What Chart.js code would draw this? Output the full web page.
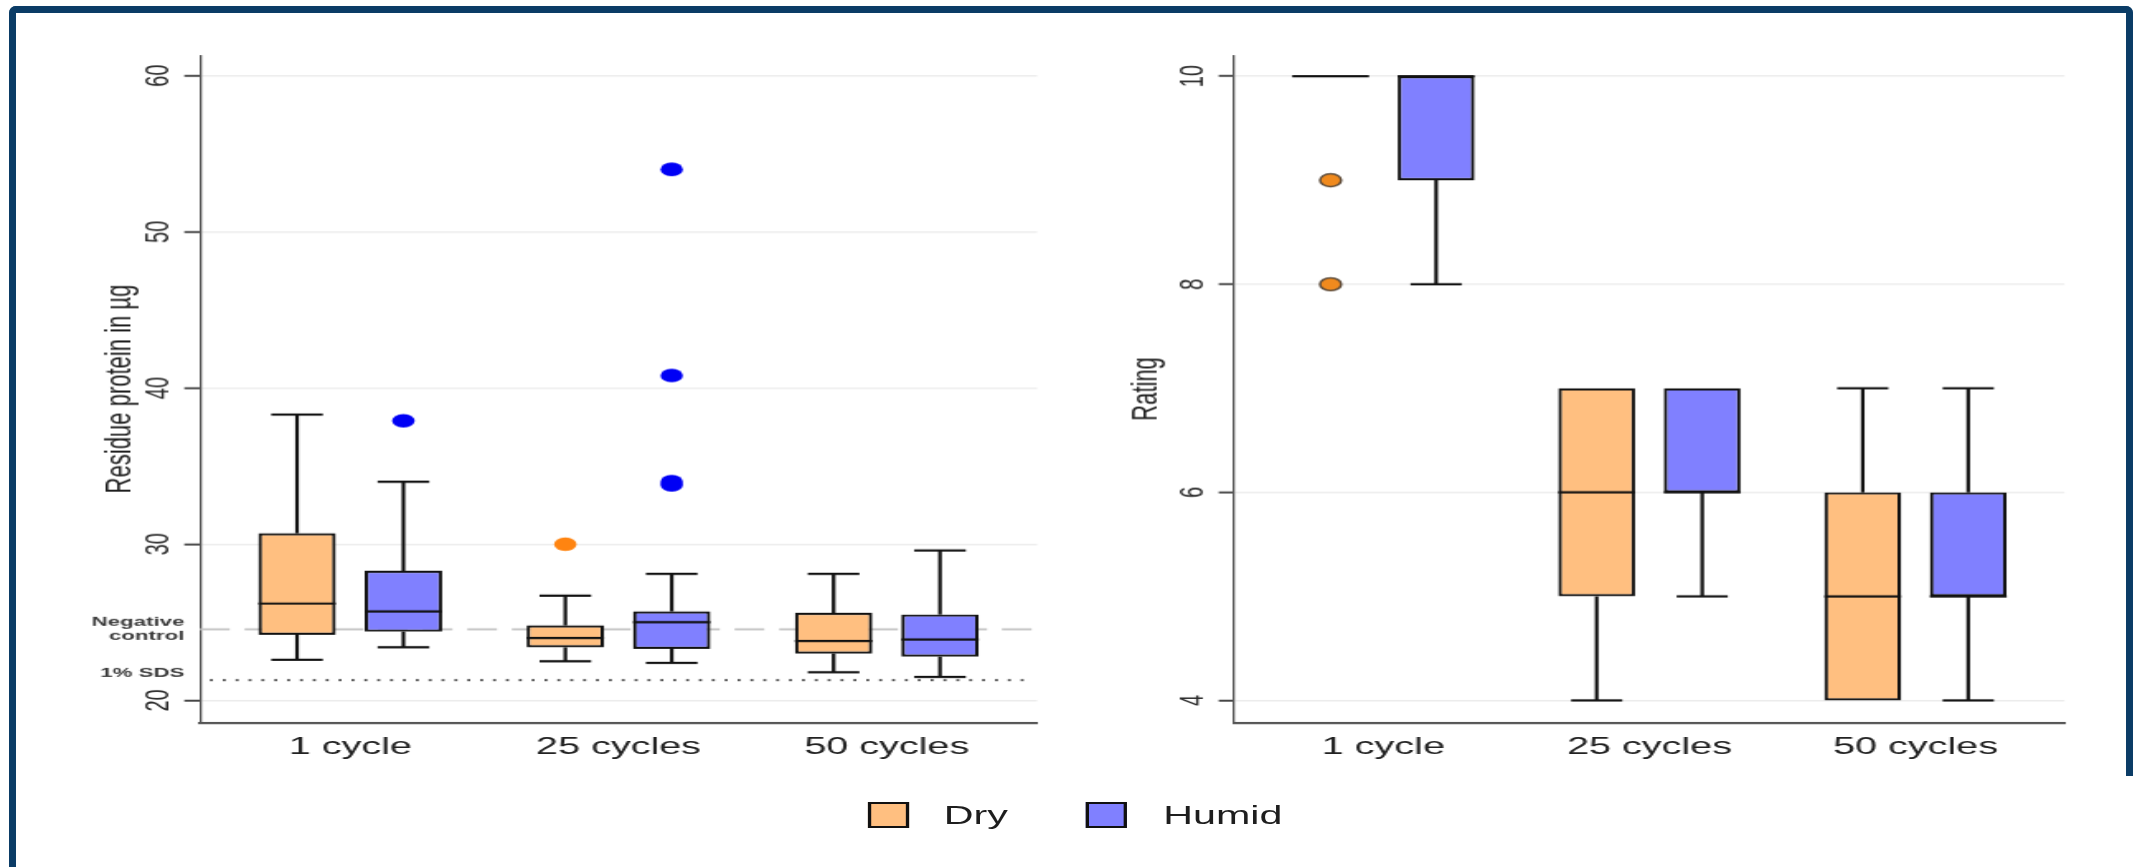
<!DOCTYPE html>
<html>
<head>
<meta charset="utf-8">
<title>Residue protein and rating by cycles</title>
<script src="https://cdn.jsdelivr.net/npm/chart.js"></script>
<style>
  html,body{margin:0;padding:0;background:#fff;}
  body{width:2138px;height:867px;position:relative;overflow:hidden;font-family:"Liberation Sans",Arial,sans-serif;}
  #frame{position:absolute;left:9px;top:6px;width:2124px;height:770px;border:7px solid #0b3c66;border-bottom:none;border-radius:7px 7px 0 0;box-sizing:border-box;}
  #frameL{position:absolute;left:9px;top:700px;width:7px;height:167px;background:#0b3c66;}
  /* the source figure is stretched sideways, so the charts are drawn narrow and scaled */
  #stage{position:absolute;left:0;top:0;width:1296px;height:867px;transform:scaleX(1.65);transform-origin:0 0;}
  #boxL{position:absolute;left:0;top:0;width:640px;height:781.6px;}
  #boxR{position:absolute;left:640px;top:0;width:656px;height:781.6px;}
  #legend{position:absolute;left:0;top:802px;width:1296px;height:26px;}
  .sw{position:absolute;top:0;width:21px;height:21.5px;border:2.25px solid #111;}
  .lb{position:absolute;top:0;font-size:25px;line-height:26px;color:#1e1e1e;white-space:nowrap;}
</style>
</head>
<body>
<div id="frame"></div>
<div id="frameL"></div>
<div id="stage">
  <div id="boxL"><canvas id="protein"></canvas></div>
  <div id="boxR"><canvas id="rating"></canvas></div>
  <div id="legend">
    <div class="sw" style="left:525.5px;background:#ffbf80"></div><div class="lb" style="left:572px">Dry</div>
    <div class="sw" style="left:657.5px;background:#8080ff"></div><div class="lb" style="left:705px">Humid</div>
  </div>
</div>
<script>
// categories and series
const categories = ['1 cycle', '25 cycles', '50 cycles'];
const seriesNames = ['Dry', 'Humid'];

// residue protein (µg): [min, q1, median, q3, max] per category
const proteinDry   = [[22.6, 24.2, 26.2, 30.7, 38.3], [22.5, 23.4, 24.0, 24.8, 26.7], [21.8, 23.0, 23.8, 25.6, 28.1]];
const proteinHumid = [[23.4, 24.4, 25.7, 28.3, 34.0], [22.4, 23.3, 25.0, 25.7, 28.1], [21.5, 22.8, 23.9, 25.5, 29.6]];
const proteinDryOut   = [[], [30.0], []];
const proteinHumidOut = [[37.9], [54.0, 40.8, 34.0, 33.8], []];
const proteinTicks = [20, 30, 40, 50, 60];
const negativeControl = 24.55;
const sds1pct = 21.3;

// rating: [min, q1, median, q3, max] per category
const ratingDry   = [[10, 10, 10, 10, 10], [4, 5, 6, 7, 7], [4, 4, 5, 6, 7]];
const ratingHumid = [[8, 9, 10, 10, 10], [5, 6, 6, 7, 7], [4, 5, 5, 6, 7]];
const ratingDryOut   = [[9, 8], [], []];
const ratingHumidOut = [[], [], []];
const ratingTicks = [4, 6, 8, 10];

const fills = ['#ffbf80', '#8080ff'];
const LW = 2.2;

// draws whiskers, medians, outliers and the reference lines off the bar elements and the y scale
const boxDecor = {
  id: 'boxDecor',
  beforeDatasetsDraw(chart, args, opts){
    const {ctx, chartArea:a, scales:{y}} = chart;
    (opts.refLines||[]).forEach(r=>{
      const py = y.getPixelForValue(r.value);
      ctx.save();
      ctx.strokeStyle = r.color; ctx.lineWidth = r.width; ctx.setLineDash(r.dash);
      ctx.beginPath(); ctx.moveTo(a.left + r.inset, py); ctx.lineTo(a.right - r.inset, py); ctx.stroke();
      ctx.setLineDash([]);
      ctx.fillStyle = '#3a3a3a'; ctx.font = 'bold 13.5px "Liberation Sans", Arial, sans-serif';
      ctx.textAlign = 'right'; ctx.textBaseline = 'middle';
      if(r.label.length === 2){ ctx.fillText(r.label[0], a.left - 9.5, py - 7); ctx.fillText(r.label[1], a.left - 9.5, py + 7); }
      else ctx.fillText(r.label[0], a.left - 9.5, py - 7);
      ctx.restore();
    });
  },
  afterDatasetsDraw(chart, args, opts){
    const {ctx, scales:{y}} = chart;
    const Y = v => y.getPixelForValue(v);
    const seg = (x1,y1,x2,y2)=>{ ctx.beginPath(); ctx.moveTo(x1,y1); ctx.lineTo(x2,y2); ctx.stroke(); };
    chart.data.datasets.forEach((ds, di)=>{
      const meta = chart.getDatasetMeta(di);
      if(!ds.stats) return;
      meta.data.forEach((bar, i)=>{
        const {x:cx, width:w} = bar.getProps(['x','width'], true);
        const [mn, q1, med, q3, mx] = ds.stats[i];
        ctx.save();
        ctx.strokeStyle = '#111'; ctx.lineWidth = LW;
        if(mx > q3){ seg(cx, Y(q3), cx, Y(mx)); seg(cx - w/3, Y(mx), cx + w/3, Y(mx)); }
        if(mn < q1){ seg(cx, Y(q1), cx, Y(mn)); seg(cx - w/3, Y(mn), cx + w/3, Y(mn)); }
        seg(cx - w/2, Y(med), cx + w/2, Y(med));
        (ds.outliers[i]||[]).forEach(v=>{
          ctx.beginPath(); ctx.arc(cx, Y(v), opts.pointRadius, 0, Math.PI*2);
          ctx.fillStyle = opts.pointColors[di]; ctx.fill();
          if(opts.pointBorder){ ctx.lineWidth = 1.5; ctx.strokeStyle = opts.pointBorder; ctx.stroke(); }
        });
        ctx.restore();
      });
    });
  }
};

function boxDatasets(stats, outliers){
  return stats.map((rows, k)=>({
    label: seriesNames[k],
    data: rows.map((row, i)=>({x: i + 1, y: [row[1], row[3]]})),
    stats: rows, outliers: outliers[k],
    backgroundColor: fills[k], borderColor: '#111', borderWidth: LW, borderSkipped: false,
    categoryPercentage: 0.793, barPercentage: 0.728
  }));
}

function makeChart(id, cfg){
  return new Chart(document.getElementById(id), {
    type: 'bar',
    data: { datasets: boxDatasets(cfg.stats, cfg.outliers) },
    options: {
      responsive: true, maintainAspectRatio: false, animation: false,
      layout: { padding: { top: 55.3, right: cfg.padRight, left: 0, bottom: 0 } },
      plugins: { legend: { display: false }, tooltip: { enabled: false }, boxDecor: cfg.decor },
      scales: {
        x: {
          type: 'linear', min: 0.44, max: 3.56, offset: false,
          afterBuildTicks: s => { s.ticks = categories.map((_, i)=>({value: i + 1})); },
          afterFit: s => { s.height = 60; },
          grid: { display: false, drawTicks: false },
          border: { display: true, color: '#555', width: 2.2 },
          ticks: { autoSkip: false, maxRotation: 0, padding: 10, color: '#222',
                   font: { family: '"Liberation Sans", Arial, sans-serif', size: 24 },
                   callback: v => categories[v - 1] }
        },
        y: {
          min: cfg.min, max: cfg.max,
          afterBuildTicks: s => { s.ticks = cfg.ticks.map(v=>({value: v})); },
          afterFit: s => { s.width = cfg.axisWidth; },
          grid: { color: '#ececec', lineWidth: 1.5, tickColor: '#444', tickLength: 9.5, tickWidth: 2 },
          border: { display: true, color: '#555', width: 1.3 },
          ticks: { minRotation: 90, maxRotation: 90, crossAlign: 'center', padding: 4, color: '#2a2a2a',
                   font: { family: '"Liberation Sans", Arial, sans-serif', size: 20 } },
          title: { display: true, text: cfg.title, color: '#1e1e1e', padding: { top: cfg.titlePad, bottom: 0 },
                   font: { family: '"Liberation Sans", Arial, sans-serif', size: 22 } }
        }
      }
    },
    plugins: [boxDecor]
  });
}

makeChart('protein', {
  stats: [proteinDry, proteinHumid], outliers: [proteinDryOut, proteinHumidOut],
  min: 18.58, max: 61.3, ticks: proteinTicks, title: 'Residue protein in µg',
  axisWidth: 121.2, padRight: 11.5, titlePad: 59.5,
  decor: {
    pointRadius: 6.8, pointColors: ['#ff8410', '#0000f5'], pointBorder: null,
    refLines: [
      { value: negativeControl, dash: [18, 9], color: '#c4c4c4', width: 2, inset: 0, label: ['Negative', 'control'] },
      { value: sds1pct, dash: [1.8, 6], color: '#444', width: 2, inset: 6, label: ['1% SDS'] }
    ]
  }
});

makeChart('rating', {
  stats: [ratingDry, ratingHumid], outliers: [ratingDryOut, ratingHumidOut],
  min: 3.787, max: 10.2, ticks: ratingTicks, title: 'Rating',
  axisWidth: 108.1, padRight: 44.8, titlePad: 41.5,
  decor: { pointRadius: 6.4, pointColors: ['#f08a1e', '#0000f5'], pointBorder: '#5a4a3a', refLines: [] }
});
</script>
</body>
</html>
